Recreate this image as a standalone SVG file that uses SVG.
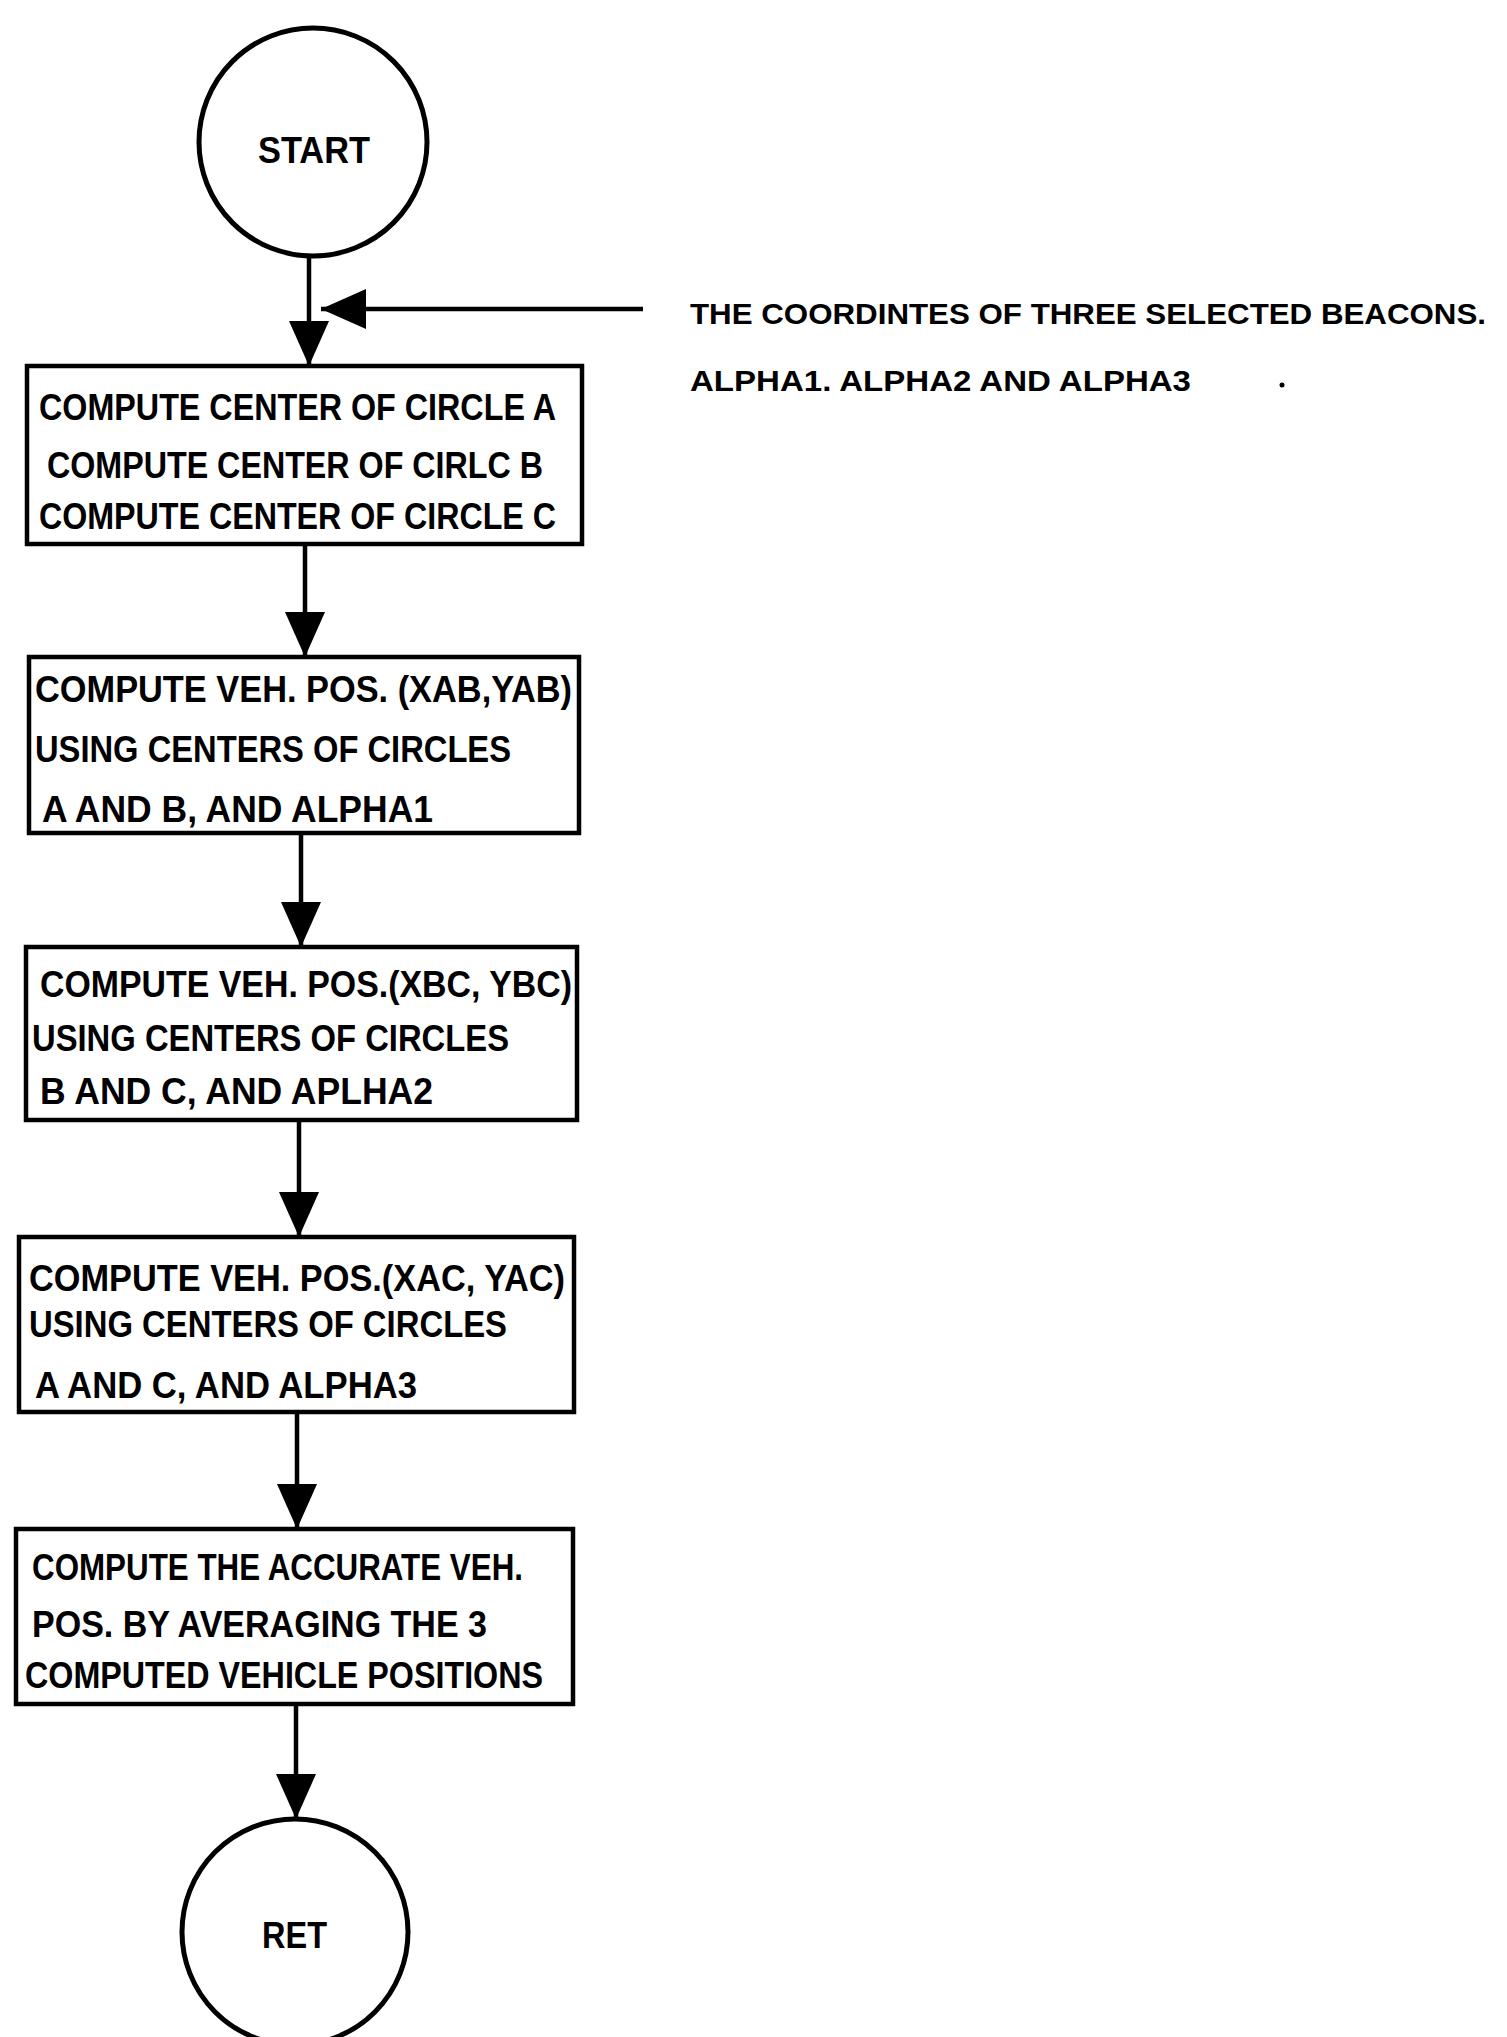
<svg xmlns="http://www.w3.org/2000/svg" width="1507" height="2037" viewBox="0 0 1507 2037">
<style>
.box{fill:#fff;stroke:#000;stroke-width:4.5}
.circ{fill:#fff;stroke:#000;stroke-width:5}
.t{font-family:"Liberation Sans",Arial,sans-serif;font-weight:bold;font-size:36px;fill:#000}
.n{font-size:30px}
.c{stroke:#000;stroke-width:4.5;fill:none}
</style>
<defs>
<marker id="arr" viewBox="0 0 45 40" refX="45" refY="20" markerWidth="45" markerHeight="40" markerUnits="userSpaceOnUse" orient="auto">
<path d="M0,0 L45,20 L0,40 Z" fill="#000"/>
</marker>
</defs>
<rect width="1507" height="2037" fill="#fff"/>
<g id="connectors">
<line class="c" x1="309" y1="258" x2="309" y2="366" marker-end="url(#arr)"/>
<line class="c" x1="643" y1="309" x2="321" y2="309" marker-end="url(#arr)"/>
<line class="c" x1="305" y1="545" x2="305" y2="657" marker-end="url(#arr)"/>
<line class="c" x1="301" y1="834" x2="301" y2="947" marker-end="url(#arr)"/>
<line class="c" x1="299" y1="1120" x2="299" y2="1237" marker-end="url(#arr)"/>
<line class="c" x1="297" y1="1413" x2="297" y2="1529" marker-end="url(#arr)"/>
<line class="c" x1="296" y1="1705" x2="296" y2="1819" marker-end="url(#arr)"/>
</g>
<g id="start">
<circle class="circ" cx="313" cy="142" r="114"/>
<text class="t" x="258" y="163" textLength="112" lengthAdjust="spacingAndGlyphs">START</text>
</g>
<g id="input-note">
<text class="t n" x="690" y="324" textLength="796" lengthAdjust="spacingAndGlyphs">THE COORDINTES OF THREE SELECTED BEACONS.</text>
<text class="t n" x="690" y="391" textLength="501" lengthAdjust="spacingAndGlyphs">ALPHA1. ALPHA2 AND ALPHA3</text>
<circle cx="1282" cy="385" r="2.5" fill="#000"/>
</g>
<g id="box1">
<rect class="box" x="27" y="366" width="555" height="178"/>
<text class="t" x="39" y="420" textLength="517" lengthAdjust="spacingAndGlyphs">COMPUTE CENTER OF CIRCLE A</text>
<text class="t" x="47" y="478" textLength="496" lengthAdjust="spacingAndGlyphs">COMPUTE CENTER OF CIRLC B</text>
<text class="t" x="39" y="529" textLength="517" lengthAdjust="spacingAndGlyphs">COMPUTE CENTER OF CIRCLE C</text>
</g>
<g id="box2">
<rect class="box" x="29" y="657" width="550" height="176"/>
<text class="t" x="35" y="702" textLength="537" lengthAdjust="spacingAndGlyphs">COMPUTE VEH. POS. (XAB,YAB)</text>
<text class="t" x="35" y="762" textLength="476" lengthAdjust="spacingAndGlyphs">USING CENTERS OF CIRCLES</text>
<text class="t" x="42" y="822" textLength="391" lengthAdjust="spacingAndGlyphs">A AND B, AND ALPHA1</text>
</g>
<g id="box3">
<rect class="box" x="26" y="947" width="551" height="173"/>
<text class="t" x="40" y="997" textLength="532" lengthAdjust="spacingAndGlyphs">COMPUTE VEH. POS.(XBC, YBC)</text>
<text class="t" x="32" y="1051" textLength="477" lengthAdjust="spacingAndGlyphs">USING CENTERS OF CIRCLES</text>
<text class="t" x="40" y="1104" textLength="393" lengthAdjust="spacingAndGlyphs">B AND C, AND APLHA2</text>
</g>
<g id="box4">
<rect class="box" x="19" y="1237" width="555" height="175"/>
<text class="t" x="29" y="1291" textLength="536" lengthAdjust="spacingAndGlyphs">COMPUTE VEH. POS.(XAC, YAC)</text>
<text class="t" x="29" y="1337" textLength="478" lengthAdjust="spacingAndGlyphs">USING CENTERS OF CIRCLES</text>
<text class="t" x="35" y="1398" textLength="382" lengthAdjust="spacingAndGlyphs">A AND C, AND ALPHA3</text>
</g>
<g id="box5">
<rect class="box" x="16" y="1529" width="557" height="175"/>
<text class="t" x="32" y="1580" textLength="491" lengthAdjust="spacingAndGlyphs">COMPUTE THE ACCURATE VEH.</text>
<text class="t" x="32" y="1637" textLength="455" lengthAdjust="spacingAndGlyphs">POS. BY AVERAGING THE 3</text>
<text class="t" x="25" y="1688" textLength="518" lengthAdjust="spacingAndGlyphs">COMPUTED VEHICLE POSITIONS</text>
</g>
<g id="ret">
<circle class="circ" cx="295" cy="1932" r="113"/>
<text class="t" x="262" y="1948" textLength="65" lengthAdjust="spacingAndGlyphs">RET</text>
</g>
</svg>
